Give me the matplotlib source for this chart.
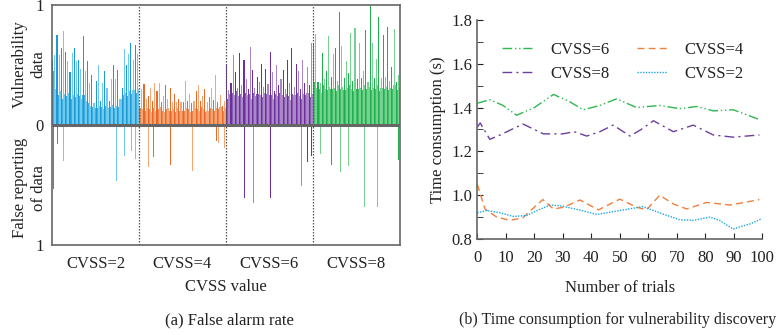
import numpy as np
import matplotlib
matplotlib.use('Agg')
import matplotlib.pyplot as plt

plt.rcParams['font.family'] = ['Liberation Serif', 'DejaVu Serif']
plt.rcParams['font.size'] = 11
TXT = '#222222'
SPINE = '#666666'

# ---- (a) False alarm rate : bar values per CVSS group ----
groups = ['CVSS=2', 'CVSS=4', 'CVSS=6', 'CVSS=8']

peak_2 = [0.54, 0.58, 0.75, 0.58, 0.64, 0.78, 0.61, 0.53, 0.44, 0.60, 0.64, 0.53, 0.54, 0.47,
          0.74, 0.45, 0.53, 0.35, 0.42, 0.18, 0.37, 0.50, 0.20, 0.35, 0.45, 0.31, 0.20, 0.38,
          0.50, 0.38, 0.46, 0.17, 0.31, 0.63, 0.50, 0.59, 0.68, 0.54, 0.67, 0.59]
base_2 = [0.45, 0.30, 0.25, 0.28, 0.22, 0.26, 0.24, 0.27, 0.22, 0.25, 0.23, 0.26, 0.24, 0.22,
          0.25, 0.20, 0.18, 0.16, 0.15, 0.17, 0.14, 0.16, 0.15, 0.13, 0.16, 0.14, 0.15, 0.17,
          0.14, 0.16, 0.15, 0.22, 0.25, 0.27, 0.24, 0.28, 0.26, 0.29, 0.27, 0.30]
peak_4 = [0.14, 0.30, 0.34, 0.22, 0.24, 0.31, 0.20, 0.35, 0.28, 0.35, 0.19, 0.24, 0.33, 0.22,
          0.31, 0.19, 0.26, 0.19, 0.22, 0.19, 0.19, 0.37, 0.20, 0.26, 0.18, 0.20, 0.28, 0.33,
          0.20, 0.24, 0.30, 0.19, 0.23, 0.31, 0.21, 0.42, 0.19, 0.25, 0.16, 0.20]
base_4 = [0.14, 0.13, 0.12, 0.14, 0.13, 0.11, 0.14, 0.12, 0.13, 0.15, 0.12, 0.11, 0.13, 0.14,
          0.12, 0.13, 0.11, 0.14, 0.12, 0.13, 0.12, 0.14, 0.13, 0.11, 0.12, 0.14, 0.13, 0.12,
          0.15, 0.13, 0.11, 0.12, 0.14, 0.13, 0.12, 0.14, 0.13, 0.15, 0.12, 0.14]
peak_6 = [0.51, 0.29, 0.35, 0.58, 0.44, 0.31, 0.60, 0.33, 0.54, 0.38, 0.30, 0.65, 0.46, 0.31,
          0.40, 0.36, 0.51, 0.32, 0.47, 0.34, 0.61, 0.44, 0.28, 0.50, 0.33, 0.38, 0.46, 0.30,
          0.54, 0.35, 0.64, 0.32, 0.51, 0.45, 0.30, 0.54, 0.35, 0.48, 0.33, 0.68]
base_6 = [0.22, 0.26, 0.27, 0.25, 0.28, 0.24, 0.26, 0.23, 0.27, 0.25, 0.26, 0.22, 0.27, 0.24,
          0.26, 0.25, 0.23, 0.27, 0.26, 0.24, 0.25, 0.22, 0.26, 0.24, 0.27, 0.25, 0.23, 0.26,
          0.24, 0.21, 0.26, 0.25, 0.27, 0.24, 0.22, 0.26, 0.25, 0.27, 0.23, 0.26]
peak_8 = [0.68, 0.76, 0.36, 0.35, 0.60, 0.38, 0.45, 0.74, 0.40, 0.59, 0.64, 0.37, 0.94, 0.66,
          0.39, 0.53, 0.43, 0.77, 0.37, 0.81, 0.38, 0.68, 0.39, 0.45, 0.79, 0.36, 0.99, 0.68,
          0.39, 0.55, 0.90, 0.39, 0.75, 0.40, 0.82, 0.37, 0.48, 0.80, 0.36, 0.42]
base_8 = [0.36, 0.31, 0.30, 0.27, 0.33, 0.30, 0.29, 0.32, 0.30, 0.31, 0.28, 0.33, 0.30, 0.32,
          0.29, 0.31, 0.33, 0.30, 0.28, 0.32, 0.30, 0.31, 0.29, 0.33, 0.30, 0.32, 0.29, 0.31,
          0.30, 0.33, 0.28, 0.31, 0.30, 0.32, 0.29, 0.31, 0.30, 0.33, 0.29, 0.31]

# false reports (lower half): slot index, value, shade (0 dark / 1 light)
false_idx_2 = [0, 2, 5, 29, 33, 36, 38]
false_val_2 = [0.53, 0.16, 0.30, 0.47, 0.26, 0.22, 0.28]
false_sh_2 = [0, 0, 1, 1, 1, 1, 1]
false_idx_4 = [4, 6, 14, 24, 35, 36, 39]
false_val_4 = [0.35, 0.27, 0.33, 0.38, 0.13, 0.15, 0.19]
false_sh_4 = [1, 0, 0, 1, 0, 1, 1]
false_idx_6 = [8, 12, 20, 34, 37, 39]
false_val_6 = [0.61, 0.65, 0.61, 0.51, 0.31, 0.26]
false_sh_6 = [0, 1, 0, 1, 0, 0]
false_idx_8 = [3, 8, 12, 16, 23, 29, 39]
false_val_8 = [0.24, 0.33, 0.39, 0.34, 0.68, 0.68, 0.29]
false_sh_8 = [1, 0, 1, 1, 1, 1, 0]

dark = ['#1b9ad6', '#e8692a', '#6d2f9c', '#1fad4d']
light = ['#72c9ee', '#f4a676', '#aa88c8', '#74d190']
mid = ['#3aaee3', '#ee8447', '#8a5bb3', '#3fbe66']

# ---- (b) Time consumption ----
x6 = [0, 4.4, 9, 13.8, 20, 26.7, 32, 37.2, 43, 48.9, 55.9, 64, 71, 77, 82.8, 89.8, 94, 99]
y6 = [1.42, 1.436, 1.41, 1.365, 1.40, 1.46, 1.43, 1.39, 1.41, 1.44, 1.40, 1.41, 1.395, 1.405,
      1.385, 1.39, 1.37, 1.345]
x8 = [0, 1, 4.4, 8, 16, 23.2, 30, 34, 38.4, 43, 47.7, 53.6, 57.5, 61.8, 68.8, 75.8, 82.8, 89.8, 99]
y8 = [1.31, 1.33, 1.255, 1.275, 1.325, 1.28, 1.28, 1.29, 1.27, 1.29, 1.32, 1.27, 1.30, 1.34,
      1.29, 1.32, 1.275, 1.265, 1.275]
x4 = [0, 2.7, 6.8, 11.5, 16, 20, 23, 26.7, 30.3, 36, 42.5, 50, 55.9, 59.4, 64, 68.8, 73.5,
      80.5, 88.7, 99]
y4 = [1.05, 0.937, 0.90, 0.885, 0.897, 0.945, 0.98, 0.937, 0.945, 0.978, 0.933, 0.982, 0.945,
      0.933, 1.0, 0.96, 0.937, 0.967, 0.955, 0.98]
x2 = [0, 3.3, 8, 12.6, 17.3, 21, 25.5, 29, 35, 42, 50, 58.2, 61.8, 66, 71, 75.8, 81.6, 85,
      89.8, 92, 96, 99.8]
y2 = [0.92, 0.93, 0.92, 0.903, 0.907, 0.93, 0.955, 0.952, 0.935, 0.912, 0.93, 0.948, 0.93,
      0.91, 0.888, 0.885, 0.90, 0.885, 0.845, 0.855, 0.87, 0.893]

fig = plt.figure(figsize=(7.84, 3.35), dpi=100)

# ---------------- left panel ----------------
ax1 = fig.add_axes([0.0663, 0.2687, 0.4439, 0.7164])
peaks = [peak_2, peak_4, peak_6, peak_8]
bases = [base_2, base_4, base_6, base_8]
fidx = [false_idx_2, false_idx_4, false_idx_6, false_idx_8]
fval = [false_val_2, false_val_4, false_val_6, false_val_8]
fsh = [false_sh_2, false_sh_4, false_sh_6, false_sh_8]

for g in range(4):
    n = len(peaks[g])
    w = 1.0 / n
    slots = g + np.arange(n) * w
    pc = [dark[g] if i % 2 == 0 else light[g] for i in range(n)]
    bc = [mid[g] if i % 2 == 0 else light[g] for i in range(n)]
    ax1.bar(slots + 0.5 * w, bases[g], width=w, color=bc, linewidth=0)
    ax1.bar(slots + 0.3 * w, peaks[g], width=0.5 * w, color=pc, linewidth=0)
    nc = [dark[g] if s == 0 else light[g] for s in fsh[g]]
    ax1.bar(g + (np.array(fidx[g]) + 0.5) * w, -np.array(fval[g]), width=0.45 * w,
            color=nc, linewidth=0)

for d in [1, 2, 3]:
    ax1.axvline(d, color='#555555', lw=0.9, ls=(0, (1.2, 1.2)))
ax1.axhline(0, color='#666666', lw=2.2, zorder=5)

ax1.set_xlim(0, 4)
ax1.set_ylim(-1, 1)
ax1.set_yticks([-1, 0, 1])
ax1.set_yticklabels(['1', '0', '1'])
ax1.set_xticks([0.5, 1.5, 2.5, 3.5])
ax1.set_xticklabels(groups)
ax1.tick_params(axis='both', length=0, colors=TXT, labelsize=12)
ax1.tick_params(axis='x', pad=8)
ax1.tick_params(axis='y', pad=6)
for s in ax1.spines.values():
    s.set_color(SPINE)
    s.set_linewidth(1.2)
ax1.set_xlabel('CVSS value', color=TXT, fontsize=12, labelpad=5)

fig.text(0.037, 0.81, 'Vulnerability\ndata', rotation=90, ha='center', va='center',
         color=TXT, fontsize=12, linespacing=1.25)
fig.text(0.037, 0.44, 'False reporting\nof data', rotation=90, ha='center', va='center',
         color=TXT, fontsize=12, linespacing=1.25)
fig.text(0.293, 0.045, '(a) False alarm rate', ha='center', va='center', color=TXT, fontsize=12)

# ---------------- right panel ----------------
ax2 = fig.add_axes([0.6088, 0.2866, 0.3635, 0.6537])
ax2.plot(x6, y6, color='#2db84d', lw=1.0, ls=(0, (7, 2, 1, 2, 1, 2)), label='CVSS=6')
ax2.plot(x8, y8, color='#6b3fa0', lw=1.0, ls=(0, (7, 3, 1.5, 3)), label='CVSS=8')
ax2.plot(x4, y4, color='#f07f3c', lw=1.0, ls=(0, (5, 3)), label='CVSS=4')
ax2.plot(x2, y2, color='#1aa7e0', lw=1.0, ls=(0, (1, 1)), label='CVSS=2')

ax2.set_xlim(0, 100)
ax2.set_ylim(0.8, 1.8)
ax2.set_xticks(range(0, 101, 10))
ax2.set_yticks([0.8, 1.0, 1.2, 1.4, 1.6, 1.8])
ax2.set_yticks([0.9, 1.1, 1.3, 1.5, 1.7], minor=True)
ax2.tick_params(axis='both', which='both', direction='in', colors=TXT, labelsize=12)
ax2.tick_params(which='major', length=4)
ax2.tick_params(which='minor', length=4)
ax2.tick_params(axis='x', pad=8)
for k in ['top', 'right']:
    ax2.spines[k].set_visible(False)
for k in ['left', 'bottom']:
    ax2.spines[k].set_color(SPINE)
    ax2.spines[k].set_linewidth(1.2)
ax2.set_xlabel('Number of trials', color=TXT, fontsize=12, labelpad=10)
ax2.set_ylabel('Time consumption (s)', color=TXT, fontsize=12)

ax2.legend(ncol=2, frameon=False, loc='upper left', bbox_to_anchor=(0.035, 0.97),
           fontsize=12, handlelength=1.8, columnspacing=1.6, handletextpad=1.1,
           labelspacing=0.5, labelcolor=TXT)

fig.text(0.586, 0.045, '(b) Time consumption for vulnerability discovery', ha='left',
         va='center', color=TXT, fontsize=11.5)

fig.savefig('out.png', dpi=100)
